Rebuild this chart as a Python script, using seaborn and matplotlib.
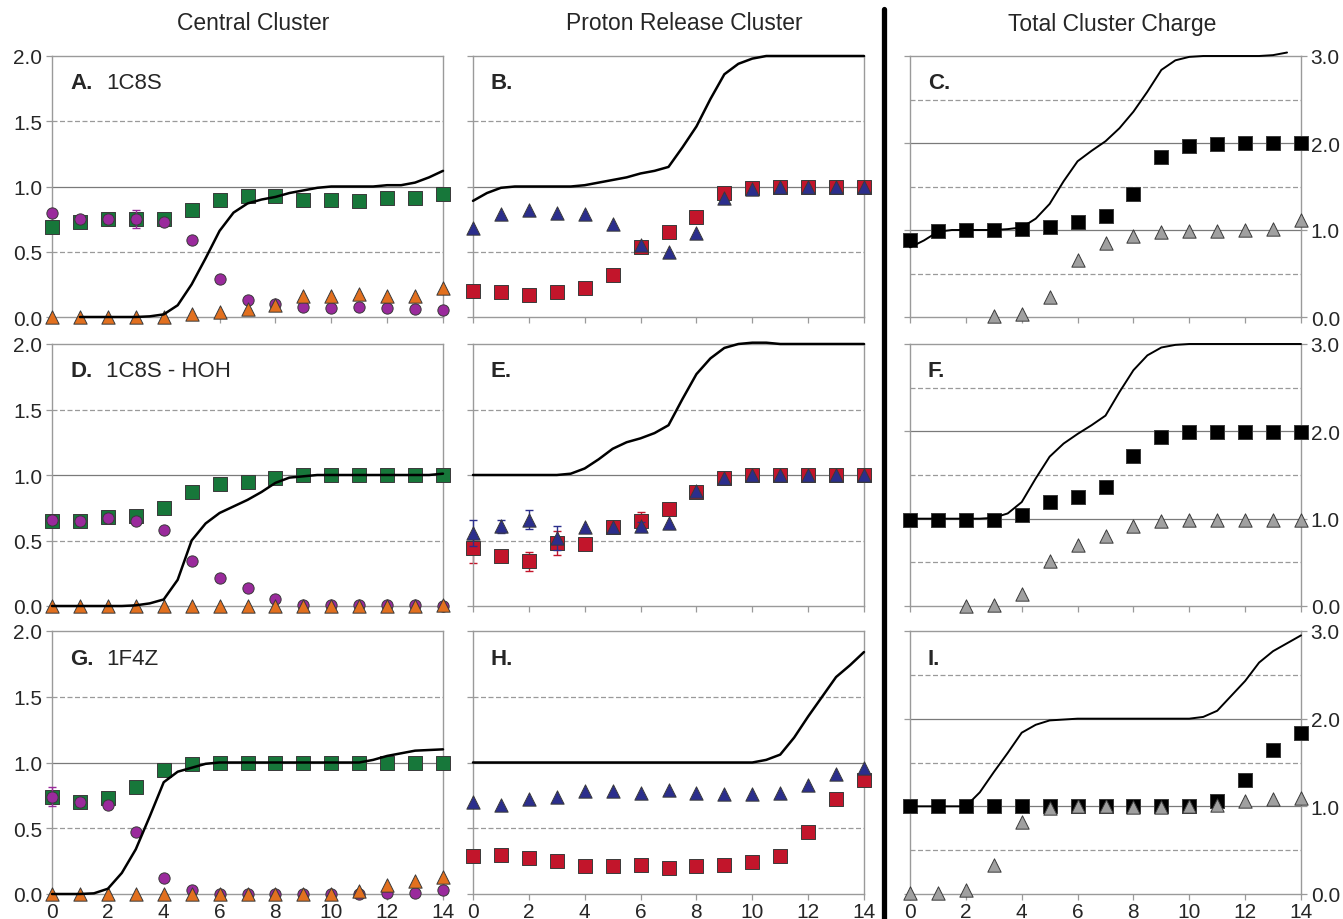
import numpy as np
import pandas as pd
import matplotlib
matplotlib.use("Agg")
import matplotlib.pyplot as plt
from matplotlib.lines import Line2D
import seaborn as sns

sns.set_theme(style="white")
plt.rcParams['font.family'] = ['Liberation Sans', 'DejaVu Sans']

nan = np.nan
steps = list(range(15))
curve_x = list(np.arange(0, 14.5, 0.5))

# ---- Central cluster (A, D, G): green squares, purple circles, orange triangles, black curve
A_sq = [0.69, 0.73, 0.75, 0.75, 0.75, 0.82, 0.90, 0.93, 0.93, 0.90, 0.90, 0.89, 0.91, 0.91, 0.94]
A_ci = [0.80, 0.75, 0.75, 0.75, 0.73, 0.59, 0.29, 0.13, 0.10, 0.08, 0.07, 0.08, 0.07, 0.06, 0.05]
A_ci_err = [0, 0, 0, 0.07, 0, 0, 0, 0, 0, 0, 0, 0, 0, 0, 0]
A_tr = [0.0, 0.0, 0.0, 0.0, 0.0, 0.02, 0.04, 0.06, 0.09, 0.16, 0.16, 0.18, 0.16, 0.16, 0.22]
A_curve = [nan, nan, 0.0, 0.0, 0.0, 0.0, 0.0, 0.005, 0.02, 0.09, 0.25, 0.45, 0.66, 0.8, 0.87,
           0.9, 0.92, 0.95, 0.97, 0.99, 1.0, 1.0, 1.0, 1.0, 1.01, 1.01, 1.03, 1.07, 1.12]

D_sq = [0.65, 0.65, 0.68, 0.69, 0.75, 0.87, 0.93, 0.95, 0.98, 1.0, 1.0, 1.0, 1.0, 1.0, 1.0]
D_ci = [0.66, 0.65, 0.67, 0.65, 0.58, 0.34, 0.21, 0.14, 0.05, 0.01, 0.01, 0.01, 0.01, 0.01, 0.0]
D_ci_err = [0, 0, 0, 0, 0, 0, 0, 0, 0, 0, 0, 0, 0, 0, 0]
D_tr = [0.0, 0.0, 0.0, 0.0, 0.0, 0.0, 0.0, 0.0, 0.0, 0.0, 0.0, 0.0, 0.0, 0.0, 0.01]
D_curve = [0.0, 0.0, 0.0, 0.0, 0.0, 0.0, 0.005, 0.02, 0.05, 0.2, 0.5, 0.63, 0.71, 0.76, 0.81,
           0.87, 0.94, 0.98, 0.99, 1.0, 1.0, 1.0, 1.0, 1.0, 1.0, 1.0, 1.0, 1.0, 1.01]

G_sq = [0.74, 0.70, 0.73, 0.81, 0.94, 0.99, 1.0, 1.0, 1.0, 1.0, 1.0, 1.0, 1.0, 1.0, 1.0]
G_ci = [0.74, 0.70, 0.68, 0.47, 0.12, 0.03, 0.0, 0.0, 0.0, 0.0, 0.0, 0.0, 0.01, 0.01, 0.03]
G_ci_err = [0.07, 0, 0, 0, 0, 0, 0, 0, 0, 0, 0, 0, 0, 0, 0]
G_tr = [0.0, 0.0, 0.0, 0.0, 0.0, 0.0, 0.0, 0.0, 0.0, 0.0, 0.0, 0.02, 0.07, 0.10, 0.13]
G_curve = [0.0, 0.0, 0.0, 0.005, 0.04, 0.16, 0.34, 0.59, 0.85, 0.93, 0.96, 0.99, 1.0,
           1.0, 1.0, 1.0, 1.0, 1.0, 1.0, 1.0, 1.0, 1.0, 1.0, 1.02, 1.05, 1.07, 1.09, 1.095, 1.10]

# ---- Proton release cluster (B, E, H): red squares, blue triangles, black curve
B_sq = [0.20, 0.19, 0.17, 0.19, 0.22, 0.32, 0.54, 0.65, 0.77, 0.95, 0.99, 1.0, 1.0, 1.0, 1.0]
B_sq_err = [0, 0, 0, 0, 0, 0, 0, 0, 0, 0, 0, 0, 0, 0, 0]
B_tri = [0.68, 0.79, 0.82, 0.80, 0.79, 0.71, 0.55, 0.50, 0.64, 0.91, 0.98, 1.0, 1.0, 1.0, 1.0]
B_tri_err = [0, 0, 0, 0, 0, 0, 0, 0, 0, 0, 0, 0, 0, 0, 0]
B_curve = [0.89, 0.95, 0.99, 1.0, 1.0, 1.0, 1.0, 1.0, 1.01, 1.03, 1.05, 1.07, 1.10, 1.12, 1.15,
           1.30, 1.46, 1.67, 1.86, 1.94, 1.98, 2.0, 2.0, 2.0, 2.0, 2.0, 2.0, 2.0, 2.0]

E_sq = [0.44, 0.38, 0.34, 0.48, 0.47, 0.60, 0.65, 0.74, 0.87, 0.98, 1.0, 1.0, 1.0, 1.0, 1.0]
E_sq_err = [0.11, 0, 0.07, 0.09, 0, 0, 0.07, 0, 0, 0, 0, 0, 0, 0, 0]
E_tri = [0.56, 0.61, 0.66, 0.52, 0.60, 0.60, 0.61, 0.63, 0.88, 0.98, 1.0, 1.0, 1.0, 1.0, 1.0]
E_tri_err = [0.10, 0.05, 0.07, 0.09, 0, 0, 0.03, 0, 0, 0, 0, 0, 0, 0, 0]
E_curve = [1.0, 1.0, 1.0, 1.0, 1.0, 1.0, 1.0, 1.01, 1.05, 1.12, 1.20, 1.25, 1.28, 1.32, 1.38,
           1.58, 1.77, 1.89, 1.97, 2.0, 2.01, 2.01, 2.0, 2.0, 2.0, 2.0, 2.0, 2.0, 2.0]

H_sq = [0.29, 0.30, 0.27, 0.25, 0.21, 0.21, 0.22, 0.20, 0.21, 0.22, 0.24, 0.29, 0.47, 0.72, 0.87]
H_sq_err = [0, 0, 0, 0, 0, 0, 0, 0, 0, 0, 0, 0, 0, 0, 0]
H_tri = [0.70, 0.68, 0.72, 0.74, 0.78, 0.78, 0.77, 0.79, 0.77, 0.76, 0.76, 0.77, 0.83, 0.91, 0.96]
H_tri_err = [0, 0, 0, 0, 0, 0, 0, 0, 0, 0, 0, 0, 0, 0, 0]
H_curve = [1.0, 1.0, 1.0, 1.0, 1.0, 1.0, 1.0, 1.0, 1.0, 1.0, 1.0, 1.0, 1.0, 1.0, 1.0,
           1.0, 1.0, 1.0, 1.0, 1.0, 1.0, 1.02, 1.06, 1.19, 1.35, 1.50, 1.65, 1.74, 1.84]

# ---- Total cluster charge (C, F, I): black squares, gray triangles, black curve
C_sq = [0.89, 0.99, 1.0, 1.0, 1.01, 1.04, 1.09, 1.16, 1.41, 1.84, 1.97, 1.99, 2.0, 2.0, 2.0]
C_tr = [nan, nan, nan, 0.01, 0.03, 0.23, 0.65, 0.85, 0.93, 0.98, 0.99, 0.99, 1.0, 1.01, 1.11]
C_curve = [0.80, 0.88, 0.98, 1.0, 1.0, 1.0, 1.0, 1.01, 1.03, 1.13, 1.30, 1.56, 1.79, 1.91, 2.02,
           2.17, 2.36, 2.59, 2.84, 2.95, 2.99, 3.0, 3.0, 3.0, 3.0, 3.0, 3.01, 3.04, nan]

F_sq = [0.98, 0.98, 0.98, 0.99, 1.04, 1.19, 1.25, 1.36, 1.72, 1.94, 1.99, 1.99, 1.99, 1.99, 1.99]
F_tr = [nan, nan, 0.0, 0.01, 0.14, 0.51, 0.70, 0.80, 0.92, 0.97, 0.98, 0.98, 0.98, 0.98, 0.98]
F_curve = [1.0, 1.0, 1.0, 1.0, 1.0, 1.0, 1.01, 1.06, 1.19, 1.46, 1.71, 1.86, 1.97, 2.07, 2.18,
           2.45, 2.70, 2.87, 2.96, 2.99, 3.0, 3.0, 3.0, 3.0, 3.0, 3.0, 3.0, 3.0, 3.0]

I_sq = [1.0, 1.0, 1.0, 1.0, 1.0, 1.0, 1.0, 1.0, 1.0, 1.0, 1.0, 1.06, 1.30, 1.64, 1.84]
I_tr = [0.01, 0.01, 0.05, 0.33, 0.82, 0.98, 1.0, 1.0, 0.99, 0.99, 1.0, 1.01, 1.06, 1.08, 1.10]
I_curve = [1.0, 1.0, 1.0, 1.0, 1.0, 1.16, 1.39, 1.61, 1.84, 1.93, 1.98, 1.99, 2.0, 2.0, 2.0,
           2.0, 2.0, 2.0, 2.0, 2.0, 2.0, 2.02, 2.09, 2.26, 2.43, 2.64, 2.77, 2.86, 2.95]

col_titles = ["Central Cluster", "Proton Release Cluster", "Total Cluster Charge"]
panel_letters = [["A.", "B.", "C."], ["D.", "E.", "F."], ["G.", "H.", "I."]]
panel_names = ["1C8S", "1C8S - HOH", "1F4Z"]
x_ticks = [0, 2, 4, 6, 8, 10, 12, 14]

GREEN, PURPLE, ORANGE = "#17773a", "#9a2a9c", "#e2701f"
RED, BLUE = "#c2152b", "#2b2e8c"
BLACK, GRAY = "#000000", "#a0a0a0"
EDGE = "#3a3a3a"
SPINE = "#9a9a9a"

W, H = 1343, 920
fig = plt.figure(figsize=(W / 100, H / 100), dpi=100)

col_left = [52, 473, 910]
col_w = 391
row_top = [57, 345, 632]
row_bot = [318, 607, 895]

left_data = [(A_sq, A_ci, A_ci_err, A_tr, A_curve),
             (D_sq, D_ci, D_ci_err, D_tr, D_curve),
             (G_sq, G_ci, G_ci_err, G_tr, G_curve)]
mid_data = [(B_sq, B_sq_err, B_tri, B_tri_err, B_curve),
            (E_sq, E_sq_err, E_tri, E_tri_err, E_curve),
            (H_sq, H_sq_err, H_tri, H_tri_err, H_curve)]
right_data = [(C_sq, C_tr, C_curve), (F_sq, F_tr, F_curve), (I_sq, I_tr, I_curve)]

SQ_S, CI_S, TR_S = 100, 66, 92
FS_TICK, FS_TITLE, FS_PANEL = 15, 16.5, 16


def scatter(ax, y, marker, color, size, z, edge=EDGE):
    df = pd.DataFrame({"x": steps, "y": y}).dropna()
    sns.scatterplot(data=df, x="x", y="y", ax=ax, marker=marker, s=size, color=color,
                    edgecolor=edge, linewidth=0.7, clip_on=False, zorder=z, legend=False)


def errbars(ax, y, err, color, z):
    idx = [i for i, e in enumerate(err) if e > 0]
    if idx:
        ax.errorbar([steps[i] for i in idx], [y[i] for i in idx], yerr=[err[i] for i in idx],
                    fmt="none", ecolor=color, elinewidth=1.0, capsize=3, capthick=1.0,
                    zorder=z, clip_on=False)


def curve(ax, y, lw):
    df = pd.DataFrame({"x": curve_x, "y": y}).dropna()
    sns.lineplot(data=df, x="x", y="y", ax=ax, color="black", lw=lw, zorder=6,
                 clip_on=False, legend=False)


for r in range(3):
    for c in range(3):
        l = col_left[c] / W
        b = 1 - row_bot[r] / H
        h = (row_bot[r] - row_top[r]) / H
        ax = fig.add_axes([l, b, col_w / W, h])
        ymax = 3.0 if c == 2 else 2.0
        ax.set_xlim(0, 14)
        ax.set_ylim(0, ymax)
        solid = [1.0, 2.0] if c == 2 else [1.0]
        dashed = [0.5, 1.5, 2.5] if c == 2 else [0.5, 1.5]
        for v in solid:
            ax.axhline(v, color="#7a7a7a", lw=0.9, zorder=1)
        for v in dashed:
            ax.axhline(v, color="#9a9a9a", lw=0.9, ls=(0, (4, 2)), zorder=1)
        for s in ax.spines.values():
            s.set_color(SPINE)
            s.set_linewidth(1.0)

        if c == 0:
            sq, ci, cerr, tr, cv = left_data[r]
            scatter(ax, sq, "s", GREEN, SQ_S, 3)
            errbars(ax, ci, cerr, PURPLE, 3.5)
            scatter(ax, ci, "o", PURPLE, CI_S, 4)
            scatter(ax, tr, "^", ORANGE, TR_S, 5)
            curve(ax, cv, 1.8)
        elif c == 1:
            sq, serr, tri, terr, cv = mid_data[r]
            errbars(ax, sq, serr, RED, 2.5)
            scatter(ax, sq, "s", RED, SQ_S, 3)
            errbars(ax, tri, terr, BLUE, 3.5)
            scatter(ax, tri, "^", BLUE, TR_S, 4)
            curve(ax, cv, 1.8)
        else:
            sq, tr, cv = right_data[r]
            curve(ax, cv, 1.4)
            scatter(ax, sq, "s", BLACK, SQ_S, 3)
            scatter(ax, tr, "^", GRAY, TR_S, 4)

        ax.set_xlabel("")
        ax.set_ylabel("")
        ax.set_xticks(x_ticks)
        ax.tick_params(axis="x", direction="out", length=4, width=0.9, color=SPINE,
                       labelsize=FS_TICK, pad=2, bottom=True)
        if r < 2:
            ax.set_xticklabels([])
        if c == 2:
            ax.set_yticks([0, 1, 2, 3])
            ax.set_yticklabels(["0.0", "1.0", "2.0", "3.0"])
            ax.tick_params(axis="y", direction="out", length=4, width=0.9, color=SPINE,
                           left=True, right=True, labelleft=False, labelright=True,
                           labelsize=FS_TICK, pad=3)
        else:
            ax.set_yticks([0, 0.5, 1.0, 1.5, 2.0])
            ax.set_yticklabels(["0.0", "0.5", "1.0", "1.5", "2.0"])
            ax.tick_params(axis="y", direction="out", length=4, width=0.9, color=SPINE,
                           left=True, labelleft=(c == 0), labelsize=FS_TICK, pad=3)
        ax.text(18 / col_w, 0.897, panel_letters[r][c], transform=ax.transAxes,
                fontsize=FS_PANEL, fontweight="bold", va="center", ha="left", zorder=10)
        if c == 0:
            ax.text(54 / col_w, 0.897, panel_names[r], transform=ax.transAxes,
                    fontsize=FS_PANEL, va="center", ha="left", zorder=10)

for xc, t in zip([253, 684, 1112], col_titles):
    fig.text(xc / W, 1 - 24 / H, t, ha="center", va="center", fontsize=FS_TITLE)

fig.add_artist(Line2D([884 / W, 884 / W], [0, 1 - 10 / H], transform=fig.transFigure,
                      color="black", lw=3.8))

fig.savefig("out.png", dpi=100)
